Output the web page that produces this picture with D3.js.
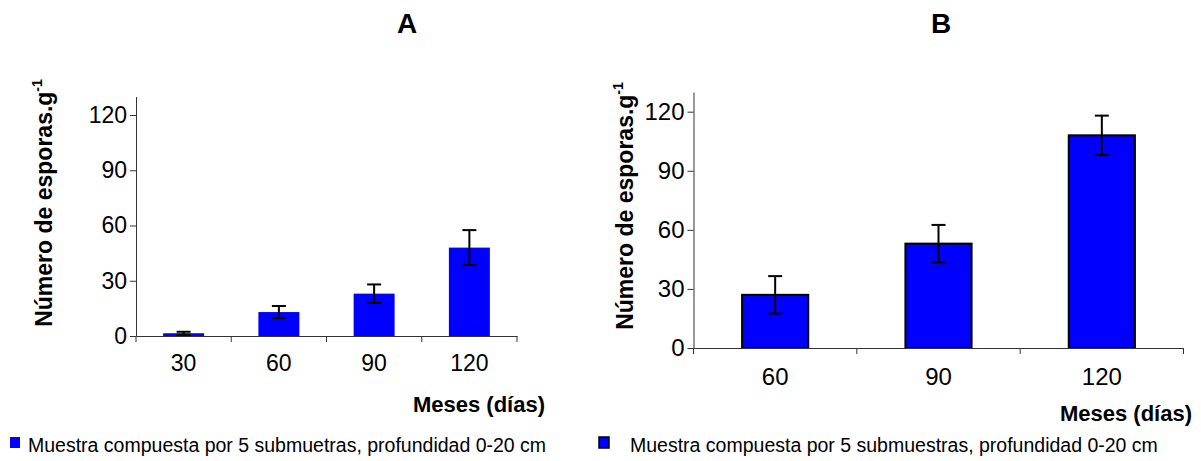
<!DOCTYPE html>
<html>
<head>
<meta charset="utf-8">
<script src="https://cdn.jsdelivr.net/npm/d3@7"></script>
<style>
  html, body { margin: 0; padding: 0; background: #fff; }
  svg { display: block; font-family: "Liberation Sans", Arial, sans-serif; }
</style>
</head>
<body>
<svg id="chart" width="1201" height="461"></svg>
<script>
// Spore counts per gram of soil, by sampling time (days)
const daysA = ["30", "60", "90", "120"];
const sporesA = [1.5, 13, 23, 48];
const errA = [0.8, 3.3, 5, 9.5];

const daysB = ["60", "90", "120"];
const sporesB = [27, 53, 108];
const errB = [9.5, 9.5, 10];

const yTicks = [0, 30, 60, 90, 120];
const yMax = 130;

const svg = d3.select("#chart");

function panel(cfg) {
  const g = svg.append("g");
  const x = d3.scaleBand().domain(cfg.cats).range(cfg.xRange)
    .paddingInner(cfg.pad).paddingOuter(cfg.pad / 2);
  const y = d3.scaleLinear().domain([0, yMax]).range(cfg.yRange);
  const y0 = y(0);

  // bars
  g.selectAll("rect.bar").data(cfg.cats).join("rect")
    .attr("class", "bar")
    .attr("x", d => x(d))
    .attr("width", x.bandwidth())
    .attr("y", (d, i) => y(cfg.vals[i]))
    .attr("height", (d, i) => y0 - y(cfg.vals[i]))
    .attr("fill", "#0000ff")
    .attr("stroke", cfg.outline ? "#000" : "none")
    .attr("stroke-width", 2);

  // error bars
  const eb = g.selectAll("g.err").data(cfg.cats).join("g").attr("class", "err")
    .attr("stroke", "#000").attr("stroke-width", 2);
  const cx = d => x(d) + x.bandwidth() / 2;
  eb.append("line")
    .attr("x1", cx).attr("x2", cx)
    .attr("y1", (d, i) => y(cfg.vals[i] + cfg.errs[i]))
    .attr("y2", (d, i) => y(cfg.vals[i] - cfg.errs[i]));
  [1, -1].forEach(s => {
    eb.append("line")
      .attr("x1", d => cx(d) - 7).attr("x2", d => cx(d) + 7)
      .attr("y1", (d, i) => y(cfg.vals[i] + s * cfg.errs[i]))
      .attr("y2", (d, i) => y(cfg.vals[i] + s * cfg.errs[i]));
  });

  // y axis
  const yAxis = g.append("g")
    .attr("transform", `translate(${cfg.xRange[0]},0)`)
    .call(d3.axisLeft(y).tickValues(yTicks).tickSize(6).tickPadding(3).tickSizeOuter(0));
  yAxis.select(".domain").attr("stroke", "#333");
  yAxis.selectAll(".tick line").attr("stroke", "#333");
  yAxis.selectAll(".tick text").attr("font-size", cfg.tickFont).attr("fill", "#000")
    .attr("font-family", "Liberation Sans, Arial, sans-serif");

  // x axis: labels under bars, ticks on category boundaries
  const xAxis = g.append("g")
    .attr("transform", `translate(0,${y0})`)
    .call(d3.axisBottom(x).tickSize(0).tickPadding(cfg.xLabelPad).tickSizeOuter(0));
  xAxis.select(".domain").attr("stroke", "#333");
  xAxis.selectAll(".tick text").attr("font-size", cfg.tickFont).attr("fill", "#000")
    .attr("font-family", "Liberation Sans, Arial, sans-serif");
  const bounds = d3.range(cfg.cats.length + 1).map(i => cfg.xRange[0] + i * x.step());
  g.selectAll("line.bound").data(bounds).join("line")
    .attr("class", "bound")
    .attr("x1", d => d).attr("x2", d => d)
    .attr("y1", y0).attr("y2", y0 + 6)
    .attr("stroke", "#333");

  // panel title
  g.append("text").attr("x", cfg.title.x).attr("y", 33)
    .attr("text-anchor", "middle").attr("font-size", 28).attr("font-weight", "bold")
    .text(cfg.title.t);

  // y axis title
  const yt = g.append("text")
    .attr("transform", `translate(${cfg.yTitle.x},${cfg.yTitle.y}) rotate(-90)`)
    .attr("text-anchor", "middle").attr("font-size", 23).attr("font-weight", "bold");
  yt.append("tspan").text("Número de esporas.g");
  yt.append("tspan").attr("font-size", 14).attr("dy", -10).text("-1");

  // x axis title
  g.append("text").attr("x", cfg.xTitle.x).attr("y", cfg.xTitle.y)
    .attr("text-anchor", "end").attr("font-size", 22).attr("font-weight", "bold")
    .text("Meses (días)");

  // legend
  g.append("rect").attr("x", cfg.legend.x).attr("y", 437).attr("width", 10).attr("height", 11)
    .attr("fill", "#0000ff")
    .attr("stroke", cfg.outline ? "#000" : "none").attr("stroke-width", 1.5);
  g.append("text").attr("x", cfg.legend.tx).attr("y", 452)
    .attr("font-size", 19.5).text(cfg.legend.text);
}

panel({
  cats: daysA, vals: sporesA, errs: errA,
  xRange: [136, 517], yRange: [336, 96.6], pad: 0.57, outline: false,
  tickFont: 23, xLabelPad: 19,
  title: { x: 407, t: "A" },
  yTitle: { x: 52, y: 203 },
  xTitle: { x: 545, y: 412 },
  legend: { x: 10, tx: 28, text: "Muestra compuesta por 5 submuetras, profundidad 0-20 cm" }
});

panel({
  cats: daysB, vals: sporesB, errs: errB,
  xRange: [693.5, 1183.5], yRange: [348, 92], pad: 0.595, outline: true,
  tickFont: 24, xLabelPad: 20,
  title: { x: 941, t: "B" },
  yTitle: { x: 633, y: 206 },
  xTitle: { x: 1192, y: 421 },
  legend: { x: 599, tx: 630, text: "Muestra compuesta por 5 submuestras, profundidad 0-20 cm" }
});
</script>
</body>
</html>
